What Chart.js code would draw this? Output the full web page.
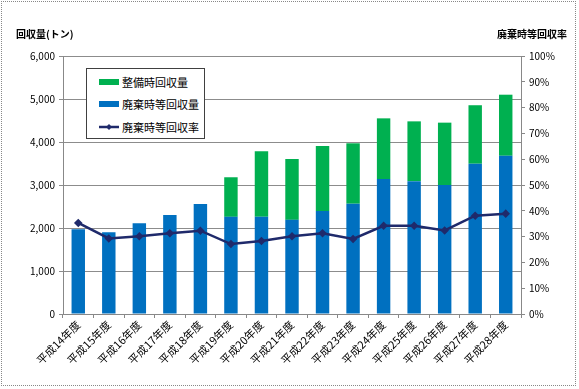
<!DOCTYPE html>
<html><head><meta charset="utf-8">
<script src="https://cdn.jsdelivr.net/npm/chart.js@4/dist/chart.umd.min.js"></script>
<style>
html,body{margin:0;padding:0;background:#fff;}
#wrap{position:relative;width:579px;height:389px;overflow:hidden;font-family:"Noto Sans CJK JP",sans-serif;}
#frame{position:absolute;left:1px;top:1px;width:575px;height:385px;border:1px dotted #888;box-sizing:border-box;pointer-events:none;}
.ttl{position:absolute;font-size:10px;color:#000;font-weight:bold;white-space:nowrap;}
#legend{position:absolute;left:86px;top:68px;width:119px;height:71px;border:1px solid #404040;background:#fff;box-sizing:border-box;font-size:11px;}
.li{position:absolute;left:12px;height:14px;display:flex;align-items:center;white-space:nowrap;}
.sw{width:20px;height:6px;margin-right:3px;}
</style></head>
<body>
<div id="wrap">
<canvas id="c" width="579" height="389"></canvas>
<div class="ttl" style="left:16px;top:26px;">回収量(トン)</div>
<div class="ttl" style="left:497px;top:26px;">廃棄時等回収率</div>
<div id="legend">
  <div class="li" style="top:6px;"><div class="sw" style="background:#00B050"></div>整備時回収量</div>
  <div class="li" style="top:28px;"><div class="sw" style="background:#0070C0"></div>廃棄時等回収量</div>
  <div class="li" style="top:51px;"><svg width="20" height="8" style="margin-right:3px"><line x1="0" y1="4" x2="20" y2="4" stroke="#1F2A6B" stroke-width="2.5"/><polygon points="10,1 13,4 10,7 7,4" fill="#1F2A6B"/></svg>廃棄時等回収率</div>
</div>
<div id="frame"></div>
</div>
<script>
const categories = ["平成14年度","平成15年度","平成16年度","平成17年度","平成18年度","平成19年度","平成20年度","平成21年度","平成22年度","平成23年度","平成24年度","平成25年度","平成26年度","平成27年度","平成28年度"];
const haikiValues = [1970, 1900, 2110, 2300, 2560, 2260, 2260, 2190, 2395, 2565, 3140, 3090, 3000, 3495, 3680];
const seibiValues = [null, null, null, null, null, 920, 1525, 1415, 1510, 1405, 1410, 1390, 1450, 1360, 1420];
const rateValues = [35.3, 29.3, 30.1, 31.3, 32.3, 27.1, 28.3, 30.1, 31.3, 29.1, 34.2, 34.2, 32.4, 38.1, 38.9];

const FONT = {family:'"Noto Sans CJK JP", sans-serif', size:10};
new Chart(document.getElementById('c'), {
  data: {
    labels: categories,
    datasets: [
      {type:'line', label:'廃棄時等回収率', data: rateValues, yAxisID:'y1', borderColor:'#1F2A6B', backgroundColor:'#1F2A6B', borderWidth:2.5, pointStyle:'rectRot', pointRadius:2.5, pointHoverRadius:2.5, order:0},
      {type:'bar', label:'廃棄時等回収量', data: haikiValues, yAxisID:'y', backgroundColor:'#0070C0', stack:'s', categoryPercentage:1, barPercentage:0.44, order:1},
      {type:'bar', label:'整備時回収量', data: seibiValues, yAxisID:'y', backgroundColor:'#00B050', stack:'s', categoryPercentage:1, barPercentage:0.44, order:1}
    ]
  },
  options: {
    responsive:false, animation:false,
    layout:{padding:{top:56, left:0, right:0, bottom:0}},
    plugins:{legend:{display:false}, tooltip:{enabled:false}},
    scales:{
      x:{
        stacked:true, offset:true,
        grid:{display:true, drawOnChartArea:false, offset:true, tickLength:4, color:'#888'},
        border:{color:'#888'},
        ticks:{color:'#000', font:{family:FONT.family, size:11}, minRotation:45, maxRotation:45, padding:0},
        afterFit(s){ s.height = 75; }
      },
      y:{
        stacked:true, position:'left', min:0, max:6000,
        ticks:{stepSize:1000, color:'#000', font:FONT, padding:4, callback:v=>v.toLocaleString('en-US')},
        grid:{color:'#8c8c8c', tickLength:4, borderDash:[2,1], tickBorderDash:[]},
        border:{color:'#888'},
        afterFit(s){ s.width = 63; }
      },
      y1:{
        position:'right', min:0, max:100,
        ticks:{stepSize:10, color:'#000', font:FONT, padding:4, callback:v=>v+'%'},
        grid:{drawOnChartArea:false, tickLength:4, color:'#888'},
        border:{color:'#888'},
        afterFit(s){ s.width = 58; }
      }
    }
  }
});
</script>
</body></html>
